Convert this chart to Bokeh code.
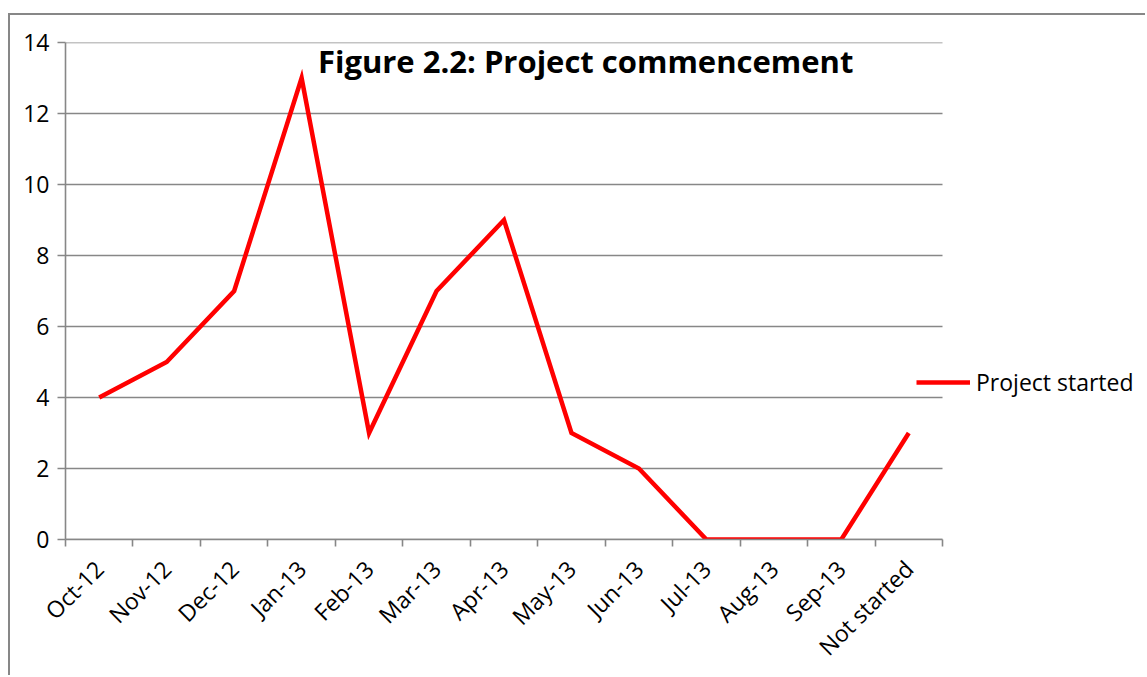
import math
from bokeh.plotting import figure
from bokeh.models import (ColumnDataSource, Range1d, Label, Legend, LegendItem,
                          FixedTicker)
from bokeh.embed import file_html
from bokeh.resources import INLINE

categories = ["Oct-12", "Nov-12", "Dec-12", "Jan-13", "Feb-13", "Mar-13", "Apr-13",
              "May-13", "Jun-13", "Jul-13", "Aug-13", "Sep-13", "Not started"]
project_started = [4, 5, 7, 13, 3, 7, 9, 3, 2, 0, 0, 0, 3]
y_ticks = [0, 2, 4, 6, 8, 10, 12, 14]
title_text = "Figure 2.2:  Project commencement"
series_name = "Project started"

FONT = "Open Sans"
GRID = "#878787"

n = len(categories)
x_pos = [i + 0.5 for i in range(n)]          # category centres
boundaries = list(range(n + 1))              # category boundaries (tick marks)

src = ColumnDataSource(dict(x=x_pos, y=project_started, cat=categories))

# canvas starts at page (10, 15), inside the chart-area border
CW, CH = 1137, 662
FRAME_W = CW - 55
x_end = FRAME_W / (877 / n)

p = figure(width=CW, height=CH, x_range=Range1d(0, x_end), y_range=Range1d(0, 14),
           output_backend="svg", toolbar_location=None,
           min_border_left=55, min_border_top=27, min_border_right=0,
           min_border_bottom=138)
p.outline_line_color = None
p.background_fill_color = "white"
p.border_fill_color = "white"
p.margin = (13, 0, 0, 8)
p.styles = {"border-left": f"2px solid {GRID}", "border-top": f"2px solid {GRID}"}

# horizontal gridlines limited to the category span
p.segment(x0=[0] * len(y_ticks), x1=[n] * len(y_ticks), y0=y_ticks, y1=y_ticks,
          line_color=GRID, line_width=1.6)

r = p.line("x", "y", source=src, line_color="#FF0000", line_width=4.5,
           line_join="miter")

# axes
p.xgrid.grid_line_color = None
p.ygrid.grid_line_color = None
p.yaxis.ticker = FixedTicker(ticks=y_ticks)
p.xaxis.ticker = FixedTicker(ticks=x_pos, minor_ticks=boundaries)
p.xaxis.major_label_overrides = {x: c for x, c in zip(x_pos, categories)}
p.xaxis.bounds = (0, n)
for ax in (p.xaxis[0], p.yaxis[0]):
    ax.axis_line_color = GRID
    ax.axis_line_width = 1.6
    ax.major_tick_line_color = GRID
    ax.major_tick_line_width = 1.6
    ax.minor_tick_line_color = GRID
    ax.minor_tick_line_width = 1.6
    ax.major_label_text_font = FONT
    ax.major_label_text_font_size = "23px"
    ax.major_label_text_color = "black"
p.yaxis.minor_tick_line_color = None
p.yaxis.major_tick_out = 8
p.yaxis.major_tick_in = 0
p.yaxis.major_label_standoff = 8
p.xaxis.major_tick_out = 0
p.xaxis.major_tick_in = 0
p.xaxis.minor_tick_out = 7
p.xaxis.minor_tick_in = 0
p.xaxis.major_label_orientation = math.pi / 4
p.xaxis.major_label_standoff = 18

# title inside plot
p.add_layout(Label(x=7.77, y=13.49, text=title_text, text_font=FONT,
                   text_font_style="bold", text_font_size="31px",
                   text_align="center", text_baseline="middle", text_color="black"))

# legend
legend = Legend(items=[LegendItem(label=series_name, renderers=[r])],
                location=(851, 141), border_line_color=None,
                background_fill_alpha=0, padding=0, margin=0,
                glyph_width=54, glyph_height=26, label_height=26,
                label_standoff=6, label_text_font=FONT,
                label_text_font_size="23px", label_text_color="black")
p.add_layout(legend, "center")

open("out.html", "w").write(file_html(p, INLINE))
